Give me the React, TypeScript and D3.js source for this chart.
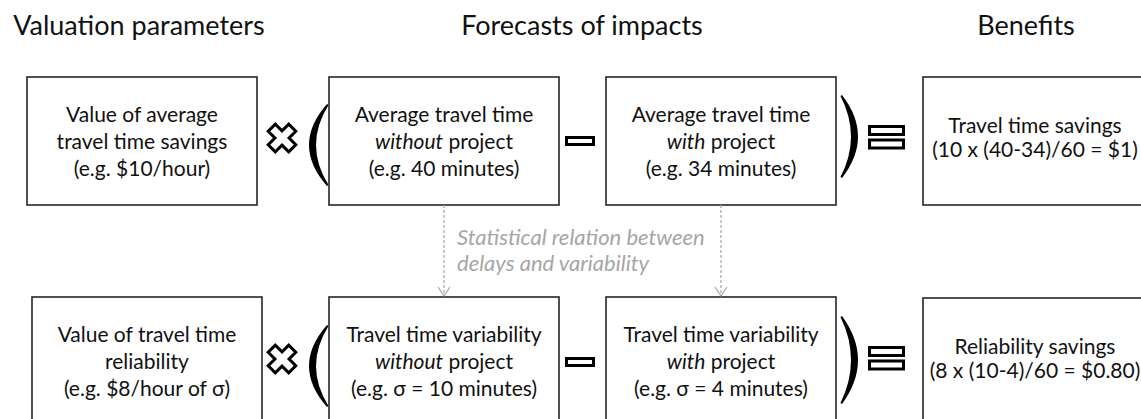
import React from "react";
import * as d3 from "d3";

// column headers and the text inside every box (words wrapped in _ are italic)
const headers = ["Valuation parameters", "Forecasts of impacts", "Benefits"];
const rows = ["time", "reliability"];
const valuationLabels = [
  ["Value of average", "travel time savings", "(e.g. $10/hour)"],
  ["Value of travel time", "reliability", "(e.g. $8/hour of σ)"],
];
const withoutLabels = [
  ["Average travel time", "_without_ project", "(e.g. 40 minutes)"],
  ["Travel time variability", "_without_ project", "(e.g. σ = 10 minutes)"],
];
const withLabels = [
  ["Average travel time", "_with_ project", "(e.g. 34 minutes)"],
  ["Travel time variability", "_with_ project", "(e.g. σ = 4 minutes)"],
];
const benefitLabels = [
  ["Travel time savings", "(10 x (40-34)/60 = $1)"],
  ["Reliability savings", "(8 x (10-4)/60 = $0.80)"],
];
const relationNote = ["Statistical relation between", "delays and variability"];

const W = 1141;
const H = 419;
const FONT = "Lato, 'Open Sans', sans-serif";

const columns = ["valuation", "without", "with", "benefit"];
const colLeft = d3.scaleOrdinal<string, number>().domain(columns).range([27, 329, 606, 923]);
const colWidth = d3.scaleOrdinal<string, number>().domain(columns).range([230, 230, 230, 224]);
const rowTop = d3.scaleOrdinal<string, number>().domain(rows).range([77, 297]);
const boxH = 128;
const rowShift = d3.scaleOrdinal<string, number>().domain(rows).range([0, 221]);

const renderLine = (line: string) =>
  line.split("_").map((part, i) => (
    <tspan key={i} fontStyle={i % 2 === 1 ? "italic" : "normal"}>
      {part}
    </tspan>
  ));

const Box = ({ x, y, w, lines }: { x: number; y: number; w: number; lines: string[] }) => {
  const lh = lines.length === 3 ? 27 : 24;
  const cy = y + boxH / 2;
  const first = cy - ((lines.length - 1) / 2) * lh + (lines.length === 3 ? 8 : 4);
  return (
    <g>
      <rect x={x} y={y} width={w} height={boxH} fill="#fff" stroke="#262626" strokeWidth={1.6} />
      <text textAnchor="middle" fontSize={21} fontFamily={FONT} fill="#111">
        {lines.map((l, i) => (
          <tspan key={i} x={x + w / 2} y={first + i * lh}>
            {renderLine(l)}
          </tspan>
        ))}
      </text>
    </g>
  );
};

// rotated greek cross for the multiply sign
const crossPath = (cx: number, cy: number) => {
  const L = 14.5;
  const a = 5;
  const pts: [number, number][] = [
    [a, a], [L, a], [L, -a], [a, -a], [a, -L], [-a, -L], [-a, -a], [-L, -a], [-L, a], [-a, a], [-a, L], [a, L],
  ];
  const r = Math.SQRT1_2;
  const rot = pts.map(([px, py]) => [cx + (px - py) * r, cy + (px + py) * r]);
  return d3.line()(rot as [number, number][]) + "Z";
};

// crescent shaped bracket; dir = 1 for "(", -1 for ")"
const parenPath = (tipX: number, y0: number, y1: number, depth: number, dir: number) => {
  const p = d3.path();
  const mid = (y0 + y1) / 2;
  p.moveTo(tipX, y0);
  p.quadraticCurveTo(tipX - dir * depth * 2, mid, tipX, y1);
  p.lineTo(tipX + dir * 1.5, y1 - 1);
  p.quadraticCurveTo(tipX - dir * (depth - 5.5) * 2 + dir * 1.5, mid, tipX + dir * 1.5, y0 + 1);
  p.closePath();
  return p.toString();
};

export default function App() {
  const boxes = rows.flatMap((r, ri) => [
    { x: colLeft("valuation") + ri * 5, y: rowTop(r), w: colWidth("valuation"), lines: valuationLabels[ri] },
    { x: colLeft("without"), y: rowTop(r), w: colWidth("without"), lines: withoutLabels[ri] },
    { x: colLeft("with"), y: rowTop(r), w: colWidth("with"), lines: withLabels[ri] },
    { x: colLeft("benefit"), y: rowTop(r) + ri, w: colWidth("benefit"), lines: benefitLabels[ri] },
  ]);

  const arrowX = [colLeft("without") + colWidth("without") / 2, colLeft("with") + colWidth("with") / 2];
  const arrowY0 = rowTop("time") + boxH;
  const arrowY1 = rowTop("reliability") - 1;

  const headerX = [139, 582, 1026];

  return (
    <svg width={W} height={H} style={{ position: "absolute", left: 0, top: 0, background: "#fff" }}>
      {headers.map((h, i) => (
        <text key={h} x={headerX[i]} y={35} textAnchor="middle" fontSize={27} fontFamily={FONT} fill="#111">
          {h}
        </text>
      ))}

      {boxes.map((b, i) => (
        <Box key={i} {...b} />
      ))}

      {rows.map((r) => {
        const s = rowShift(r);
        return (
          <g key={r} stroke="#000" strokeWidth={3} fill="#fff">
            <path d={crossPath(282, 138 + s)} strokeLinejoin="miter" />
            <path d={parenPath(327, 104 + s, 186 + s, 18, 1)} fill="#000" strokeWidth={0} />
            <rect x={566.5} y={137.5 + s} width={27} height={7} />
            <path d={parenPath(842, 95 + s, 178 + s + (r === "reliability" ? 5 : 0), 16, -1)} fill="#000" strokeWidth={0} />
            <rect x={869.5} y={126.5 + s} width={34} height={8} />
            <rect x={869.5} y={140 + s} width={34} height={8} />
          </g>
        );
      })}

      {arrowX.map((x) => (
        <g key={x} stroke="#a6a6a6" strokeWidth={1.2} fill="none">
          <line x1={x} x2={x} y1={arrowY0} y2={arrowY1} strokeDasharray="3,2" />
          <path d={`M${x - 6},${arrowY1 - 9}L${x},${arrowY1}L${x + 6},${arrowY1 - 9}`} />
        </g>
      ))}

      <text fontSize={22} fontStyle="italic" fontFamily={FONT} fill="#a6a6a6">
        {relationNote.map((l, i) => (
          <tspan key={i} x={457} y={245 + i * 26}>
            {l}
          </tspan>
        ))}
      </text>
    </svg>
  );
}
